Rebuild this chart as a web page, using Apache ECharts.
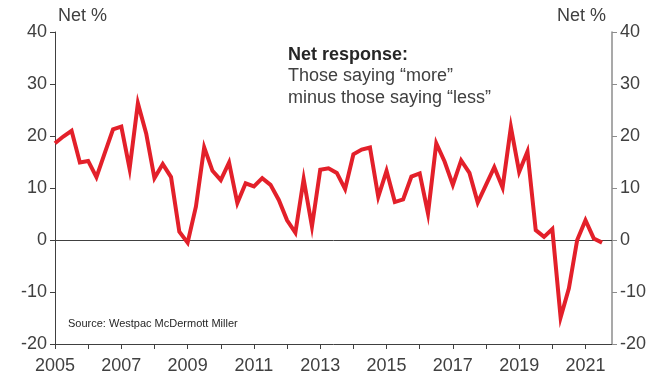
<!DOCTYPE html>
<html>
<head>
<meta charset="utf-8">
<script src="https://cdn.jsdelivr.net/npm/echarts@6/dist/echarts.min.js"></script>
<style>
  html, body { margin: 0; padding: 0; background: #fff; }
  #chart { width: 668px; height: 378px; }
</style>
</head>
<body>
<div id="chart"></div>
<script>
// Quarterly net response, March quarter 2005 onwards (Net %)
const startYear = 2005;
const quarterStep = 0.25;
const netResponse = [
  18.6, 19.9, 21.0, 14.9, 15.2, 12.1, 16.7, 21.3, 21.8, 13.7,
  26.3, 20.5, 11.9, 14.6, 12.1, 1.6, -0.5, 6.4, 17.8, 13.3,
  11.5, 14.9, 7.1, 10.9, 10.3, 11.9, 10.6, 7.7, 3.8, 1.4,
  11.7, 2.6, 13.5, 13.8, 12.9, 9.8, 16.5, 17.4, 17.8, 8.3,
  13.3, 7.3, 7.8, 12.2, 12.8, 5.1, 18.6, 15.1, 10.6, 15.3,
  12.9, 7.2, 10.6, 14.0, 10.1, 21.7, 13.1, 17.0, 1.9, 0.6,
  2.1, -14.9, -9.3, 0.0, 3.8, 0.3, -0.5
];
const yTicks = [-20, -10, 0, 10, 20, 30, 40];
const yearLabels = [2005, 2007, 2009, 2011, 2013, 2015, 2017, 2019, 2021];

const points = netResponse.map((v, i) => [startYear + i * quarterStep, v]);

const FONT = '"Liberation Sans", Arial, sans-serif';
const TEXT = '#404040';
const SIZE = 18;

const chart = echarts.init(document.getElementById('chart'));

const yAxisBase = {
  type: 'value',
  min: yTicks[0],
  max: yTicks[yTicks.length - 1],
  interval: 10,
  splitLine: { show: false },
  axisLabel: { color: TEXT, fontSize: SIZE, fontFamily: FONT, margin: 8 }
};

chart.setOption({
  animation: false,
  grid: { left: 55, right: 56, top: 32, bottom: 34, containLabel: false },
  xAxis: {
    type: 'value',
    min: 2005,
    max: 2021.8,
    interval: 1,
    axisLine: { onZero: false, lineStyle: { color: '#404040', width: 1 } },
    axisTick: { show: true, inside: false, length: 5, lineStyle: { color: '#404040' } },
    splitLine: { show: false },
    axisLabel: {
      color: TEXT, fontSize: SIZE, fontFamily: FONT, margin: 13,
      showMaxLabel: false,
      formatter: v => (yearLabels.indexOf(v) >= 0 ? String(v) : '')
    }
  },
  yAxis: [
    Object.assign({}, yAxisBase, {
      position: 'left',
      axisLine: { show: true, lineStyle: { color: '#404040', width: 1 } },
      axisTick: { show: true, length: 5, lineStyle: { color: '#404040' } }
    }),
    Object.assign({}, yAxisBase, {
      position: 'right',
      axisLine: { show: true, lineStyle: { color: '#8c8c8c', width: 1.5 } },
      axisTick: { show: true, length: 5, lineStyle: { color: '#8c8c8c' } }
    })
  ],
  series: [{
    type: 'line',
    data: points,
    yAxisIndex: 0,
    showSymbol: false,
    symbol: 'none',
    lineStyle: { color: '#e3202a', width: 4, join: 'miter' },
    z: 3,
    markLine: {
      silent: true,
      symbol: 'none',
      label: { show: false },
      lineStyle: { color: '#404040', width: 1, type: 'solid' },
      data: [{ yAxis: 0 }],
      z: 2
    }
  }],
  graphic: [
    { type: 'text', left: 58, top: 7, style: { text: 'Net %', fill: TEXT, font: SIZE + 'px ' + FONT } },
    { type: 'text', right: 62, top: 7, style: { text: 'Net %', fill: TEXT, font: SIZE + 'px ' + FONT } },
    { type: 'text', left: 288, top: 46, style: { text: 'Net response:', fill: '#262626', font: 'bold ' + SIZE + 'px ' + FONT } },
    { type: 'text', left: 288, top: 67, style: { text: 'Those saying \u201cmore\u201d', fill: TEXT, font: SIZE + 'px ' + FONT } },
    { type: 'text', left: 288, top: 89, style: { text: 'minus those saying \u201cless\u201d', fill: TEXT, font: SIZE + 'px ' + FONT } },
    { type: 'text', left: 68, top: 318, style: { text: 'Source: Westpac McDermott Miller', fill: '#262626', font: '11px ' + FONT } }
  ]
});
</script>
</body>
</html>
